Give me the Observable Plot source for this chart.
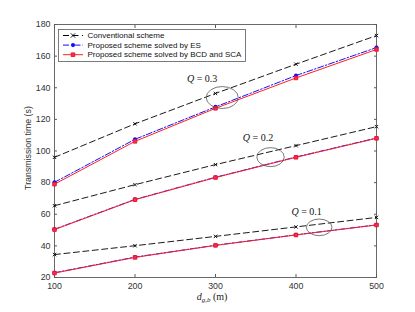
<!DOCTYPE html>
<html><head><meta charset="utf-8">
<script src="https://cdn.jsdelivr.net/npm/d3@7"></script>
<script src="https://cdn.jsdelivr.net/npm/@observablehq/plot@0.6"></script>
<style>body{margin:0;background:#fff} #chart{width:415px;height:312px}</style>
</head><body><div id="chart"></div>
<script>
// ---- data ----
const distances = [100, 200, 300, 400, 500];
const xTicks = [100, 200, 300, 400, 500];
const yTicks = [20, 40, 60, 80, 100, 120, 140, 160, 180];
const qValues = ["0.1", "0.2", "0.3"];
const conventional = {
  "0.1": [34.5, 40.1, 46.0, 52.0, 58.0],
  "0.2": [65.4, 78.7, 91.4, 103.4, 115.4],
  "0.3": [96.0, 117.2, 136.4, 154.9, 173.0]
};
const proposedES = {
  "0.1": [23.0, 32.9, 40.4, 47.0, 53.3],
  "0.2": [50.5, 69.4, 83.4, 96.2, 108.2],
  "0.3": [80.2, 107.4, 127.9, 147.7, 165.4]
};
const proposedBCD = {
  "0.1": [22.8, 32.7, 40.3, 46.9, 53.2],
  "0.2": [50.3, 69.2, 83.2, 96.0, 108.0],
  "0.3": [79.0, 106.1, 127.0, 146.2, 164.2]
};
const seriesNames = ["Conventional scheme", "Proposed scheme solved by ES", "Proposed scheme solved by BCD and SCA"];
// annotation anchors (data coordinates)
const ellipseX = [429.4, 369, 309];
const ellipseY = [51.4, 95.8, 133.5];
const labelX = [413.8, 353.4, 284];
const labelY = [59.2, 106, 143.1];

function rows(obj) {
  return qValues.flatMap(q => distances.map((d, i) => ({d, t: obj[q][i], q})));
}
const convRows = rows(conventional);
const esRows = rows(proposedES);
const bcdRows = rows(proposedBCD);

const font = "Liberation Sans, Arial, sans-serif";
const serif = "Liberation Serif, DejaVu Serif, serif";
const frameColor = "#5a5a5a";

const plot = Plot.plot({
  width: 415, height: 312,
  marginLeft: 54, marginRight: 39, marginTop: 24, marginBottom: 35,
  style: {fontFamily: font, fontSize: "8.8px", background: "white", color: "#333"},
  x: {domain: [100, 500]},
  y: {domain: [20, 180]},
  marks: [
    Plot.frame({stroke: frameColor, strokeWidth: 0.9}),
    Plot.axisX({ticks: xTicks, anchor: "bottom", tickSize: -3, tickPadding: 8, label: null, stroke: frameColor, fill: "#333"}),
    Plot.axisX({ticks: xTicks, anchor: "top", tickSize: -3, tickFormat: () => "", label: null, stroke: frameColor}),
    Plot.axisY({ticks: yTicks, anchor: "left", tickSize: -3, tickPadding: 7, label: null, stroke: frameColor, fill: "#333"}),
    Plot.axisY({ticks: yTicks, anchor: "right", tickSize: -3, tickFormat: () => "", label: null, stroke: frameColor}),
    Plot.line(convRows, {x: "d", y: "t", z: "q", stroke: "black", strokeWidth: 0.9, strokeDasharray: "6,3.5"}),
    Plot.dot(convRows, {x: "d", y: "t", symbol: "times", r: 1.7, stroke: "black", strokeWidth: 0.9}),
    Plot.line(esRows, {x: "d", y: "t", z: "q", stroke: "#1010ff", strokeWidth: 1, strokeDasharray: "6,2,1.5,2"}),
    Plot.dot(esRows, {x: "d", y: "t", symbol: "circle", r: 2.1, fill: "#1010ff"}),
    Plot.line(bcdRows, {x: "d", y: "t", z: "q", stroke: "#ff2020", strokeWidth: 1}),
    Plot.dot(bcdRows, {x: "d", y: "t", symbol: "square", r: 2.0, stroke: "#ff1010", fill: "#e0307a", strokeWidth: 0.9})
  ]
});
document.getElementById("chart").appendChild(plot);

const svg = d3.select(plot);
const sx = plot.scale("x"), sy = plot.scale("y");

// annotations: ellipses + Q labels
const radii = [[12.8, 8.3], [13.7, 9.5], [16, 11]];
qValues.forEach((q, i) => {
  svg.append("ellipse")
    .attr("cx", sx.apply(ellipseX[i])).attr("cy", sy.apply(ellipseY[i]))
    .attr("rx", radii[i][0]).attr("ry", radii[i][1])
    .attr("fill", "none").attr("stroke", "#555").attr("stroke-width", 0.8);
  const t = svg.append("text")
    .attr("x", sx.apply(labelX[i])).attr("y", sy.apply(labelY[i]))
    .attr("text-anchor", "middle").attr("font-family", serif).attr("font-size", "10px").attr("fill", "#111");
  t.append("tspan").attr("font-style", "italic").text("Q");
  t.append("tspan").attr("font-style", "normal").text(" = " + q);
});

// axis titles
const xl = svg.append("text").attr("x", 212).attr("y", 300).attr("text-anchor", "middle")
  .attr("font-family", serif).attr("font-size", "10px").attr("fill", "#222");
xl.append("tspan").attr("font-style", "italic").text("d");
xl.append("tspan").attr("font-style", "italic").attr("font-size", "7px").attr("dy", 2).text("g,b");
xl.append("tspan").attr("dy", -2).text(" (m)");

svg.append("text").attr("transform", "translate(31,148) rotate(-90)").attr("text-anchor", "middle")
  .attr("font-family", font).attr("font-size", "8.8px").attr("fill", "#333").text("Transmission time (s)");

// legend
const lg = svg.append("g").attr("font-family", font).attr("font-size", "8px").attr("text-anchor", "start");
lg.append("rect").attr("x", 58.5).attr("y", 29.5).attr("width", 187).attr("height", 32)
  .attr("fill", "white").attr("stroke", frameColor).attr("stroke-width", 0.8);
const legendStyles = [
  {stroke: "black", dash: "6,3.5", sym: d3.symbolTimes, fill: "none", mstroke: "black"},
  {stroke: "#1010ff", dash: "6,2,1.5,2", sym: d3.symbolCircle, fill: "#1010ff", mstroke: "none"},
  {stroke: "#ff2020", dash: null, sym: d3.symbolSquare, fill: "#e0307a", mstroke: "#ff1010"}
];
seriesNames.forEach((name, i) => {
  const y = 35.5 + i * 9.6;
  const s = legendStyles[i];
  lg.append("line").attr("x1", 63).attr("x2", 83).attr("y1", y).attr("y2", y)
    .attr("stroke", s.stroke).attr("stroke-width", 1).attr("stroke-dasharray", s.dash);
  lg.append("path").attr("transform", `translate(73,${y})`)
    .attr("d", d3.symbol(s.sym, i === 0 ? 14 : 13)())
    .attr("fill", s.fill).attr("stroke", s.mstroke).attr("stroke-width", 0.9);
  lg.append("text").attr("x", 87.5).attr("y", y).attr("dy", "0.32em").attr("text-anchor", "start").attr("fill", "#111").text(name);
});
</script>
</body></html>
